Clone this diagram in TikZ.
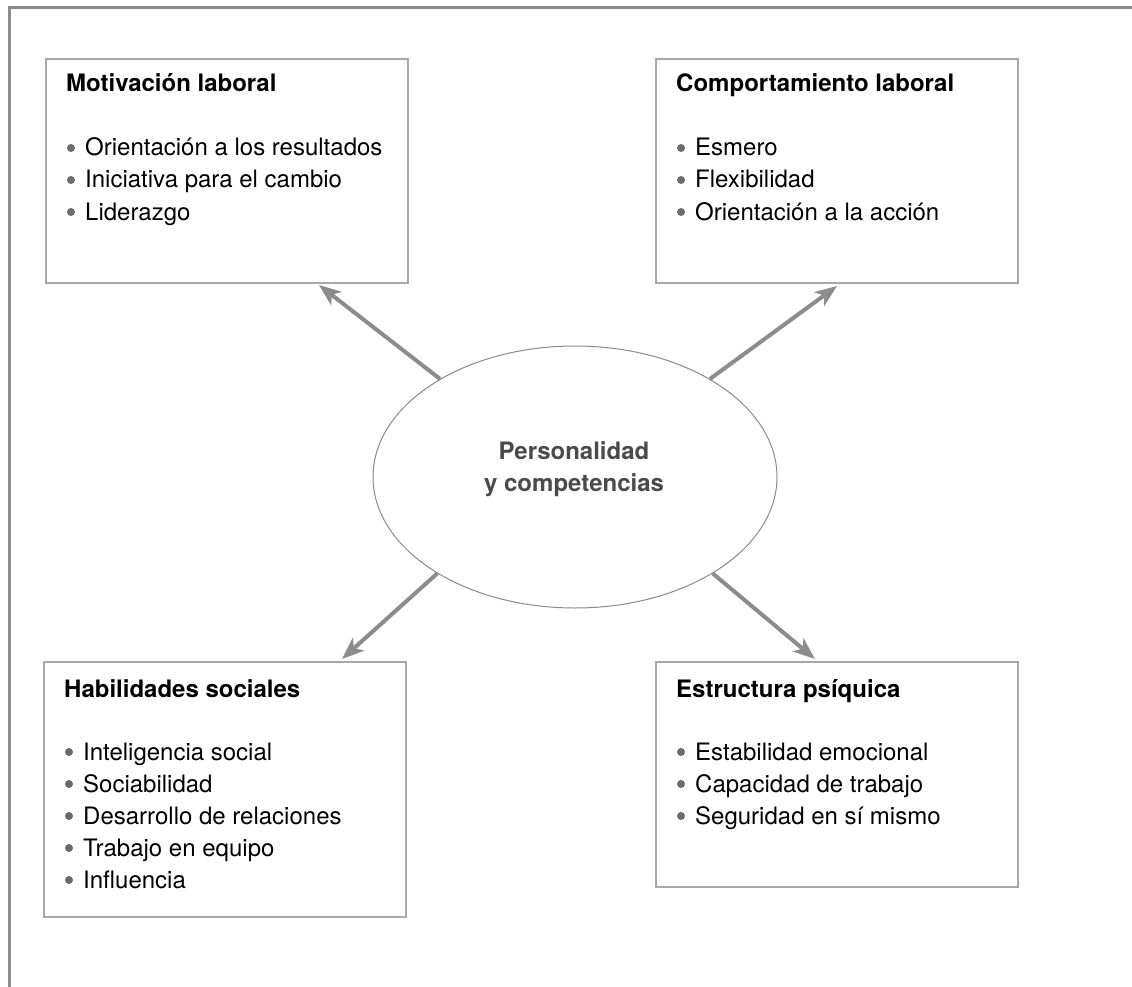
\documentclass[tikz,border=0pt]{standalone}
\usepackage{fontspec}
\setmainfont{TeX Gyre Heros}
\usetikzlibrary{arrows.meta,shapes.geometric}
\definecolor{framec}{HTML}{8C8C8C}
\definecolor{boxc}{HTML}{A8A8A8}
\definecolor{ellc}{HTML}{8A8A8A}
\definecolor{arrc}{HTML}{8C8C8C}
\definecolor{bulc}{HTML}{6B6B6B}
\definecolor{elltext}{HTML}{4A4A4A}
\tikzset{
  boxnode/.style={draw=boxc, line width=1.5pt, rectangle, inner sep=0pt, outer sep=0pt},
  titletext/.style={anchor=base west, inner sep=0pt, font=\fontsize{24}{32}\selectfont\bfseries, text=black},
  itemtext/.style={anchor=base west, inner sep=0pt, font=\fontsize{24}{32}\selectfont, text=black},
  centertext/.style={anchor=base, inner sep=0pt, font=\fontsize{24}{32}\selectfont\bfseries, text=elltext},
  arr/.style={draw=arrc, line width=4pt, -{Stealth[length=22pt,width=17pt,inset=6pt]}},
  bul/.style={fill=bulc}
}
\begin{document}
\begin{tikzpicture}[x=1pt,y=-1pt]
\useasboundingbox (0,0) rectangle (1132,987);
% frame
\draw[framec, line width=3pt] (9,987) -- (9,8) -- (1132,8);
% boxes
\node[boxnode, minimum width=362pt, minimum height=224pt] (tl) at (227,171) {};
\node[boxnode, minimum width=362pt, minimum height=224pt] (tr) at (837,171) {};
\node[boxnode, minimum width=362pt, minimum height=255pt] (bl) at (225,789.5) {};
\node[boxnode, minimum width=362pt, minimum height=225pt] (br) at (837,774.5) {};
% ellipse
\node[draw=ellc, line width=1pt, ellipse, minimum width=404pt, minimum height=262pt, inner sep=0pt] (ell) at (575,477) {};
\node[centertext] (c1) at (574,459) {Personalidad};
\node[centertext] (c2) at (574,491) {y competencias};
% TL text
\node[titletext] (tlt) at (66,92) {Motivación laboral};
\node[itemtext] (tl1) at (85,156) {Orientación a los resultados};
\node[itemtext] (tl2) at (85,188) {Iniciativa para el cambio};
\node[itemtext] (tl3) at (85,220) {Liderazgo};
\fill[bul] (71,148) circle (4);
\fill[bul] (71,180) circle (4);
\fill[bul] (71,212) circle (4);
% TR text
\node[titletext] (trt) at (676,92) {Comportamiento laboral};
\node[itemtext] (tr1) at (695,156) {Esmero};
\node[itemtext] (tr2) at (695,188) {Flexibilidad};
\node[itemtext] (tr3) at (695,220) {Orientación a la acción};
\fill[bul] (681,148) circle (4);
\fill[bul] (681,180) circle (4);
\fill[bul] (681,212) circle (4);
% BL text
\node[titletext] (blt) at (64,697) {Habilidades sociales};
\node[itemtext] (bl1) at (83,760) {Inteligencia social};
\node[itemtext] (bl2) at (83,792) {Sociabilidad};
\node[itemtext] (bl3) at (83,824) {Desarrollo de relaciones};
\node[itemtext] (bl4) at (83,856) {Trabajo en equipo};
\node[itemtext] (bl5) at (83,888) {Influencia};
\fill[bul] (69,752) circle (4);
\fill[bul] (69,784) circle (4);
\fill[bul] (69,816) circle (4);
\fill[bul] (69,848) circle (4);
\fill[bul] (69,880) circle (4);
% BR text
\node[titletext] (brt) at (676,697) {Estructura psíquica};
\node[itemtext] (br1) at (695,760) {Estabilidad emocional};
\node[itemtext] (br2) at (695,792) {Capacidad de trabajo};
\node[itemtext] (br3) at (695,824) {Seguridad en sí mismo};
\fill[bul] (681,752) circle (4);
\fill[bul] (681,784) circle (4);
\fill[bul] (681,816) circle (4);
% arrows
\draw[arr] (ell.144) -- ([xshift=92pt,yshift=-2pt]tl.south);
\draw[arr] (ell.36) -- ([yshift=-3pt]tr.south);
\draw[arr] (ell.215.6) -- ([xshift=117pt,yshift=3pt]bl.north);
\draw[arr] (ell.-35.6) -- ([xshift=-22pt,yshift=3pt]br.north);
\end{tikzpicture}
\end{document}
